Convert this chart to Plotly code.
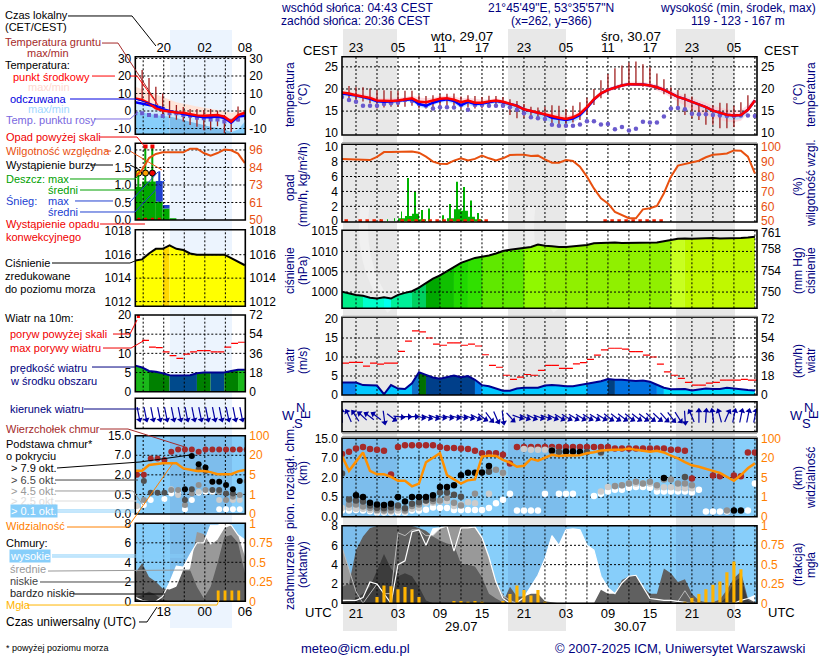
import math
from itertools import groupby

import plotly.graph_objs as go

N = None
W, H = 820, 660

# ---- main panel data, one value per hour from 19 UTC 28.07 ----
t_mid = [19.2,19,18.6,18.3,18,17.4,17.3,17.3,17.4,17.6,17.9,17.1,17,17.4,17.8,17.9,17.6,17,17.4,16.9,
         16.9,17.2,17.4,17.1,16.6,16.2,15.4,15,14.7,14.2,13.8,13.5,13.2,13.6,14.4,15.9,17.7,19,19.8,20.3,
         20.8,21.1,21.1,21,20.8,20.4,19.8,19,18.2,17.7,17.1,16.5,15.9,15.1,14.6,14.2,14,14.1,15.3,17.4]
t_feel = [19,18.8,18.5,18.2,17.8,17.2,17.1,17.2,17.3,17.5,17.7,16.6,16.2,16.9,17.4,17.7,17.3,16.3,17.1,16.6,
          16.7,17,17.3,17,16.6,16.2,15.4,15,14.7,14.2,13.5,13.2,13,13.3,14.1,15.7,17.6,19,19.8,20.3,
          20.8,21.1,21.1,21,20.8,20.4,19.8,19,18.2,17.7,17.1,16.5,15.9,15.1,14.6,14.2,14,14.1,15.3,17.4]
t_hi = [19.4,19.3,19.1,18.9,18.6,18.1,17.9,18,18,18.2,18.5,18.1,17.9,18,18.4,18.5,18.3,17.9,18,17.8,
        17.6,17.7,17.9,17.6,17.1,16.6,15.8,15.4,15.2,14.7,14.5,14.2,14,14.2,15.1,16.5,18.2,19.5,20.3,20.8,
        21.3,21.6,21.7,21.6,21.4,21,20.4,19.7,19,18.5,17.9,17.4,16.9,16.2,15.8,15.4,15.2,15.3,16.4,18]
t_lo = [19,18.9,18.4,18,17.7,17.1,16.9,17,17.1,17.2,17.5,16.5,16.2,16.8,17.3,17.4,16.8,16.4,16.9,16.6,
        16.5,16.8,17,16.6,16.1,15.6,14.9,14.4,14,13.6,13.2,12.9,12.7,13,13.7,15.3,17.3,18.5,19.3,19.9,
        20.4,20.7,20.7,20.6,20.3,19.7,19,18.1,17.1,16.2,15.4,14.7,14,13.5,13,12.6,12.5,12.8,14.6,16.9]
t_feel_lo = [18.5,18.3,18,17.7,17.3,16.8,16.7,16.8,16.9,17.1,17.2,16,15.6,16.3,16.9,17.1,16.6,15.7,16.4,16,
             16.2,16.5,16.8,16.4,15.9,15.4,14.5,14,13.6,13,12.4,12.1,12,12.5,13.4,15.2,17.4,18.9,19.7,20.2,
             20.7,21,21,20.9,20.7,20.3,19.7,18.9,18,17.4,16.7,16,15.3,14.4,13.8,13.2,13,13.2,14.8,17.2]
t_dew = [18.2,17.5,17.1,16.2,16.2,16.2,16.6,16.8,16.9,17.5,17.3,16.6,16.2,15.6,15.9,15.9,15.8,16.4,15.3,16.4,
         16.4,16.2,16.2,16.2,15.9,15.3,14.5,13.6,13.4,13.2,11.9,11.7,11.7,11.7,12,12.7,12.7,12,12.1,10.9,
         11.4,10.6,11,12.6,12.4,12.4,13.8,15.6,15.7,15.4,14.4,14.3,14.3,14.1,14,13.9,13.9,14,14,13.9]
soil_hi = [19.6,20.7,20.4,20.4,20.1,19.7,19.7,19.6,19.6,19.6,19.6,18.6,18.4,18.6,18.8,18.9,19,18.3,18.6,18.4,
           18.2,18.5,18.4,18.2,17.7,17.3,16.6,16,15.8,16,16.3,16.2,15.5,16.2,17,18,20,22,23.4,24.7,
           25.3,26,26.2,25.6,24.9,23.5,22.2,20.4,19.8,18.9,18.3,16.8,16,16.3,16.9,16.8,16.2,17,18.6,17.5]
soil_lo = [18.5,17.4,17.5,17.2,16.8,15.6,15.8,16,16,16,16.2,15.6,15.6,15.8,16,16.2,16.2,15.5,15.8,15.6,
           15.6,15.8,15.9,15.8,14.1,13.4,13.5,13.2,13,12.8,12.3,11.4,12,12.4,13,14.1,16.4,17.9,19,19.9,
           20.5,20.9,20.9,20.5,20.4,19.9,18.8,17.9,15.6,14.1,13.4,13,11.9,11.9,11.1,11.1,11.4,13.8,15,16.9]
rh = [91.7,91.6,91.5,91.3,91,93.2,96.4,96.5,96.5,96.6,96.7,96,93.3,90,88.6,88.4,90.7,92.2,90.7,91.8,
      94,92.2,90.7,92.2,94.4,94.6,94.6,93.8,94,91.5,89.3,89.3,91,90.4,86.6,79.9,72,65.4,62,56.3,
      54.2,52,52,58,58.7,60.3,68.8,79.9,87.3,88.4,90,90.6,92.9,94.6,95,95.5,97.5,97.3,93.3,82.1]
rain_max = [0,0,0,0,0,.3,.2,.4,1.3,5.8,4,1.5,1.7,0,.8,2.3,5.3,4.6,2.8,1.1]
rain_mean = [0,0,0,0,0,0,0,0,.4,.7,1,.2,0,0,0,.4,1.6,1.4,.6,.2]
conv_hours = [0,2,3,4,5,8,9,10,11,12,13,14,15,16,17,18,19,20,37,38,39,40,41,42,43,44,45]
pressure = [1000.1,999.7,999.3,999.1,998.6,998.4,998.7,998.4,999.3,999.8,1000.2,1001.1,1002.3,1003.3,1004.1,1005.2,
            1006.3,1007.2,1007.8,1008.4,1008.7,1009,1009.5,1010.1,1010.4,1010.6,1010.8,1011.1,1011.7,1011.4,
            1011.3,1011.1,1011.1,1011.3,1011.4,1011.6,1012,1012.1,1012.2,1012.2,1012.1,1012.1,1012.1,1012.1,1012.1,
            1012.2,1012.5,1012.8,1013.1,1013.2,1013.1,1013.2,1013.3,1013.3,1013.2,1013.2,1013.2,1013.3,1013.4,1013.6]
pressure_cols = (["#00ee88"]*3 + ["#00ffcc"]*3 + ["#00ffee"] + ["#00f098"]*3 + ["#00d060"]*2 + ["#00a800"]*2
                 + ["#10c000"]*2 + ["#20d800"]*2 + ["#30e000"]*2 + ["#60e800"]*6 + ["#90f800"]*3
                 + ["#90f000"]*18 + ["#c8ff20"]*2 + ["#c0f800"]*11)
gust = [8.4,8.6,8.6,7.6,8.4,8.1,8.4,8.4,11.5,14.2,16.9,16.6,15,13.4,13.1,13.7,13.7,13.1,13.4,12.9,
        10.6,7.8,7.3,5.2,4.1,4.7,5.4,5.2,6.5,7.8,7.8,7,7,8.2,8.5,9.4,10.5,11.9,12.3,12.3,
        12.1,11.4,11.4,10.5,10,8.1,6.1,5.2,4.4,3.3,2.6,2.6,3.1,3.3,3.9,3.9,3.9,4.1,3.9,3.9]
wind = [3.3,3.3,3.3,2.6,2.6,2.5,.2,2.6,1.7,1.6,3.1,6,5.3,4.6,4.3,4.6,5.1,4.7,5,4,
        2.6,2.3,1.8,1.1,1.1,1.7,1.9,1.9,1.9,2.5,2.6,2.5,2.3,2.3,2.6,2.9,3.3,3.6,4.2,4,
        4,3.8,3.7,3.8,3.5,2.7,1.9,1.5,1.5,1.6,1.2,1.4,1.7,1.6,1.6,1.9,1.6,1.5,1.3,1.2]
wind_cols = (["#0a84ef"]*2 + ["#00c8ff"]*8 + ["#1070c8"] + ["#007000"] + ["#003f8a"]*7 + ["#0080e8"]
             + ["#00c8ff"]*15 + ["#0080e8"]*3 + ["#004080"] + ["#0070e0"]*6 + ["#00a0f0"] + ["#00e0ff"]*14)
heading = [355,330,320,305,300,300,170,120,95,90,90,100,105,105,100,100,100,100,105,110,
           120,135,150,170,130,105,110,110,105,105,110,115,115,115,115,115,115,115,120,120,
           120,120,120,120,125,125,130,135,140,175,330,0,5,350,340,30,15,15,15,15]
base_red = [3.2,3.31,3.48,3.55,3.45,3.41,3.36,2.15,3.55,3.64,3.64,3.64,3.64,3.64,3.55,3.5,3.5,3.48,3.45,3.36,
            3.24,3.24,3.24,3.16,2.72,3.55,3.55,3.55,3.55,3.55,3.55,3.55,3.55,3.55,3.55,3.55,3.55,3.55,3.55,3.48,
            3.48,3.48,3.48,3.48,3.48,3.48,3.48,3.41,3.41,3.36,1.95,N,N,2.1,2.07,N,2.1,2.07,3.27,3.27]
base_black = [N,N,1.09,1,.71,.62,.6,.66,1,.78,1,1,1,1.1,1.52,1.52,1.6,2.12,2.24,2.24,
              2.26,2.59,N,N,N,N,N,N,N,N,3.38,N,3.33,3.33,3.3,N,N,N,N,N,
              N,N,N,N,N,N,1.98,N,N,N,N,N,N,N,N,N,.31,.31,N,N]
base_dark = [2.2,.88,.83,.78,.57,.45,.43,.48,.57,.43,.66,.74,.83,.91,1.24,1.24,1.12,1.02,N,N,
             N,2.29,N,N,N,N,N,N,N,N,N,3.3,N,N,N,3.3,N,3.3,N,N,
             N,N,N,N,N,N,N,N,N,2.03,N,N,N,N,N,N,N,N,N,N]
base_mid = [N,.62,.62,.52,.45,.34,.31,.31,.45,.31,.55,.62,.83,.79,.83,.95,.71,.57,N,1.17,
            N,2.4,2.4,2.24,N,N,N,N,N,N,3.3,N,3.3,3.3,N,N,N,3.25,N,1.57,
            1.6,1.69,1.78,1.69,1.78,1.6,1.9,1.9,1.69,1.69,1.6,N,N,N,N,.31,N,N,N,N]
base_light = [.45,.45,.4,.4,.34,.28,.26,.26,.31,.26,.4,.45,.71,.71,.78,.79,.55,.62,.74,.69,
              N,1.17,N,2.2,N,N,3.45,3.41,3.41,3.41,3.4,N,N,N,N,N,N,1.29,1.52,1.55,
              1.6,1.69,1.7,1.7,1.7,1.5,1.5,1.5,1.45,1.45,1.45,N,N,N,N,N,N,N,N,N]
base_white = [.31,.31,.34,.31,.28,.22,.22,.22,.22,.22,.31,.31,.36,.47,.45,.45,.34,.34,.34,.34,
              .34,.45,.69,.86,1.17,.31,.31,.31,.31,1.17,N,1.17,1.17,1.17,N,N,1.05,1.17,1.29,1.38,
              1.38,1.48,1.52,1.52,1.48,1.29,1.29,1.29,1.29,1.29,1.24,1.38,.26,.26,.26,.26,N,N,.31,1.69]
vis = [3.1,2.34,2.81,3.28,2.34,2.16,2.16,2.03,1.83,1.83,1.55,1.69,2.78,3.02,3.24,2.12,1.91,1.69,1.86,1.9,
       3.07,3.12,3.1,2.9,2.76,2.55,2.6,2.95,2.86,3.03,3.16,3.1,3.14,3.12,3.14,3.24,3.29,3.38,3.41,3.41,
       3.41,3.48,3.41,3.36,3.31,3.36,3.28,3.12,2.98,2.78,2.62,2.55,2.43,2.34,2.24,2.03,1.83,2.12,2.47,2.72]
cl_high = [.3,.3,.3,.6,2.2,2,1,0,4,4.4,7.4,7.6,6,7.7,7.8,8,5.4,7.8,7.8,7.9,
           6.8,4.8,2.2,.5,0,.1,.6,1.7,2.9,4.6,7,6,7.6,7.7,7.6,6,5.5,2.8,1.6,1,
           2.1,2.8,2.9,1.7,.5,.4,.3,.3,.2,.1,0,0,0,0,0,0,0,.3,.5,.8]
cl_mid = [5.8,3.4,1.2,0,1,2,1,1,7.3,7,7.6,7.6,7,7,7.7,8,8,8,8,7.8,
          6.8,4.6,2.2,.8,.3,0,0,0,0,0,0,0,0,0,0,0,0,0,0,0,
          0,0,0,0,0,0,0,0,.2,1.3,.2,0,0,0,0,0,0,0,0,0]
cl_low = [1.7,2,5.5,6.9,7.8,8,8,8,8,8,8,7.8,7.5,6.9,6.5,6.2,6,4.1,4,3.8,
          2.7,1,.5,.1,1.7,.7,.7,1,1,.2,.1,0,0,0,0,0,0,1.4,1,1,
          2.4,2.8,2.9,1.7,1,1,3.6,3.1,2.2,2.5,1,.3,.1,.1,.4,1.4,2.6,3.3,.5,.1]
cl_vlow = [.1,.3,.5,1,1.7,3.4,5.1,3.6,2.8,3.1,2.8,1.7,.3,0,0,0,0,0,0,0,
           0,0,0,0,0,0,0,0,0,0,0,0,0,0,0,0,0,0,0,0,
           0,0,0,0,0,0,0,0,0,0,0,0,0,0,0,.7,2.2,2.7,.3,0]
fog = [0,0,0,0,0,.08,.23,.22,.18,.21,.18,.08,0,0,0,0,.03,.03,.02,.03,
       .02,0,0,.03,.12,.23,.17,.1,.17,.02,0,0,0,0,0,0,0,0,0,0,
       0,0,0,0,0,0,0,0,0,.02,.07,.12,.18,.24,.28,.4,.54,.44,0,0]

# ---- left (legend) panel data, one value per hour ----
l_mid = [7.2,6.3,4.4,1.5,.2,-.4,-.8,-1,-1.7,-2.5,-2.7,-2.7,-2.3,-3.2,-6,-2.3,-1]
l_feel = [5,4.4,3.4,2.5,1,0,-1,-1.7,-2.5,-3.2,-3.6,-3.6,-3.2,-4,-6.7,-3.2,-2.7]
l_hi = [13.9,12.5,11,9.5,8,6.5,5,4,3.4,2.5,1.8,1,.5,0,-1.2,0,.6]
l_feel_lo = [-.4,-.8,-1.5,-2.3,-2.8,-3.2,-4,-5.2,-6.1,-7,-8,-9,-9.5,-10.5,-12,-10.5,-6]
l_feel_cols = ["#87cefa"]*5 + ["#7dbdec"]*9 + ["#87cefa"]*3
l_dew = [-1.3,-1.3,-2.3,-2.7,-2.9,-1.3,-1.3,-2.3,-2.7,-3.8,-4.2,-4.8,-4.8,-6,-5.5,-4.8,-2.3]
l_soil_hi = [N,23.4,18.9,13.9,10,5.7,3.4,2.3,1.1,1.1,.6,1.1,.2,-2.3,-5,2.5,-.4]
l_soil_lo = [N,6.3,5,2,-2,-4,-5,-6,-8,-9,-11,-11,-8.7,-12.6,-12,-6,-5]
l_rh = [78.6,83,90.7,93.4,94.5,94.5,94.5,94.5,96.9,96.9,94,92.3,94,96.3,95.8,93.6,87.4]
l_rain_mean = [.95,1.1,1.1,.53,.33,.05]
l_rain_max = [1.43,2.1,2.1]
l_snow_mean = [0,0,0,.58,.1,0]
l_snow_max = [0,0,0,1.39]
l_storm_cols = ["#ffe000","#ffa000","#f00000"]
l_pressure = [1015.5,1015.6,1016.1,1016.5,1016.5,1016.8,1016.5,1016.4,1016.1,1016,1016,1016,1016,1016,1015.7,1015.4,1015.1]
l_pressure_cols = ["#ffff00"]*4 + ["#ffd800"] + ["#ffff00"]*12
l_gust = [N,13.4,11.6,11.5,10.4,9.4,8.7,9.8,10.4,10.7,10.7,10.4,10.4,11.6,12.6,12.9]
l_wind = [6.8,6.3,5.4,5.2,4.8,4.3,4.2,4.2,4.3,4.8,5,5,5,5,5.4,5.7,5.7]
l_wind_cols = (["#1ab81a"]*2 + ["#008000"]*3 + ["#004a8c"]*4 + ["#008000"]*2 + ["#004a8c"]*2
               + ["#008000"]*2 + ["#1ab81a"]*2)
l_heading = [165,165,165,165,165,165,165,165,165,165,165,165,165,165,165,165,165]
l_base_red = [2,2,2.84,2.84,2.76,3.18,3.3,3.3,3.3,3.18,3.3,3.3,3.3,3.3,3.3,3.3,3.3]
l_base_black = [N,N,N,N,N,N,N,1.26,2.96,2.54,2.37,1.65,1.65,1.48,1.26,1.69,N]
l_base_dark = [N,1.68,1.09,1.09,1.09,N,N,.71,1.26,2.28,2.2,1.22,1.22,1.05,1.05,N,N]
l_base_mid = [N,.71,N,N,N,1.22,1.22,.46,1.05,1.48,1.22,1.65,1.14,.71,.88,.97,1.68]
l_base_light = [.41,N,N,N,N,1.26,.97,N,N,1.14,N,N,.71,N,.71,.71,N]
l_base_white = [.24,.46,.71,N,.77,1.05,1.05,.24,.71,1.09,1.14,1.14,.24,.24,.24,.24,N]
l_vis = [2.21,2.21,2.5,2.55,2.59,2.59,2.59,2.33,2.25,2.2,2.2,2.14,2.03,2.03,2.03,2.18,2.25]
l_cl_high = [.4,.1,0,0,.5,1.9,3.6,3.5,4.8,6,6,7.8,7.8,8,7.8,6.8,6.3]
l_cl_mid = [0,0,0,0,.8,1,1.5,2.4,3.4,7.1,6.9,5.8,6.3,7.5,7.8,6.8,4.6]
l_cl_low = [2.9,3.9,2.5,2,1.3,1.2,1.5,3.2,3.2,1.5,.3,1.5,3.9,6.6,6.8,6,2.9]
l_cl_vlow = [.4,.65,1,.65,.1,0,0,0,0,0,0,0,0,0,0,0,0]
l_fog = [0,0,0,0,0,0,0,0,0,0,0,0,.14,.14,.14,.14,0]

hours = list(range(60))
l_hours = list(range(17))

main_top = ["23","","05","","11","","17","","23","","05","","11","","17","","23","","05",""]
main_utc = ["21","","03","","09","","15","","21","","03","","09","","15","","21","","03",""]
main_vgrid = [2+3*i for i in range(20)]
left_vgrid = [1.15,4.15,7.15,10.15,13.15]
base_ticks = [0,1,2,3,4]
base_labels = ["0.0","0.5","2.0","7.0","15.0"]
vis_labels = ["0","1","5","20","100"]

NAVY = "#000080"
ORANGE = "#ff8000"
RHC = "#e8500f"
FONT = "Liberation Sans"

fig = go.Figure()
layout_axes = {}
shapes = []
annotations = []
n_panels = 0


def fx(x):
    return x/W


def fy(y):
    return 1-y/H


def add_panel(x, y, xr, yr, ticks, labels=None, yr2=None, rticks=None, rlabels=None, rcolor="black",
              hgrid=(), vgrid=(), top=None, bottom=None):
    global n_panels
    n_panels += 1
    i = n_panels
    j = 100+i
    xa = dict(domain=[fx(x[0]), fx(x[1])], range=list(xr), anchor="y%d" % i, showgrid=False, zeroline=False,
              showline=False, fixedrange=True, ticks="", tickfont=dict(size=13, color="black"))
    if top or bottom:
        vals, texts = top or bottom
        xa.update(tickmode="array", tickvals=vals, ticktext=texts, side="top" if top else "bottom", ticklabelstandoff=1)
    else:
        xa["showticklabels"] = False
    ya = dict(domain=[fy(y[1]), fy(y[0])], range=list(yr), anchor="x%d" % i, showgrid=False, zeroline=False,
              showline=False, fixedrange=True, ticks="", tickmode="array", tickvals=ticks,
              ticktext=labels if labels else [str(t) for t in ticks], tickfont=dict(size=12, color="black"),
              ticklabelstandoff=3)
    yb = dict(domain=[fy(y[1]), fy(y[0])], range=list(yr2 or yr), anchor="x%d" % i, overlaying="y%d" % i, side="right",
              showgrid=False, zeroline=False, showline=False, fixedrange=True, ticks="", tickmode="array",
              tickvals=rticks or [], ticktext=rlabels if rlabels else [str(t) for t in rticks or []],
              tickfont=dict(size=12, color=rcolor), ticklabelstandoff=3)
    layout_axes["xaxis%d" % i] = xa
    layout_axes["yaxis%d" % i] = ya
    layout_axes["yaxis%d" % j] = yb
    p = dict(x="x%d" % i, y="y%d" % i, y2="y%d" % j, box=(x, y), xr=xr, yr=yr, hgrid=hgrid, vgrid=vgrid)
    fig.add_trace(go.Scatter(x=[xr[0]], y=[(yr2 or yr)[0]], mode="markers", marker=dict(opacity=0),
                             xaxis=p["x"], yaxis=p["y2"], hoverinfo="skip"))
    shapes.append(dict(type="rect", xref="paper", yref="paper", x0=fx(x[0]), x1=fx(x[1]), y0=fy(y[1]), y1=fy(y[0]),
                       line=dict(color="black", width=1.6), layer="above"))
    return p


def add_grid(p):
    gx, gy = [], []
    for h in p["hgrid"]:
        gx += [p["xr"][0], p["xr"][1], N]
        gy += [h, h, N]
    for v in p["vgrid"]:
        gx += [v, v, N]
        gy += [p["yr"][0], p["yr"][1], N]
    fig.add_trace(go.Scatter(x=gx, y=gy, mode="lines", line=dict(color="black", width=1, dash="2px,2px"),
                             xaxis=p["x"], yaxis=p["y"], hoverinfo="skip"))


def add_line(p, x, y, color, width=2, right=False, **kw):
    fig.add_trace(go.Scatter(x=x, y=y, mode="lines", line=dict(color=color, width=width), xaxis=p["x"],
                             yaxis=p["y2"] if right else p["y"], hoverinfo="skip", **kw))


def add_band(p, x, hi, lo, color):
    fig.add_trace(go.Scatter(x=x, y=hi, mode="lines", line=dict(width=0), xaxis=p["x"], yaxis=p["y"], hoverinfo="skip"))
    fig.add_trace(go.Scatter(x=x, y=lo, mode="lines", line=dict(width=0), fill="tonexty", fillcolor=color,
                             xaxis=p["x"], yaxis=p["y"], hoverinfo="skip"))


def add_sticks(p, x, hi, lo, color, width=1.3):
    sx, sy = [], []
    for h, a, b in zip(x, hi, lo):
        if a is None:
            continue
        sx += [h, h, N]
        sy += [a, b, N]
    add_line(p, sx, sy, color, width)


def add_steps(p, x, values, color, width=1.2):
    sx, sy = [], []
    for h, v in zip(x, values):
        if v is None:
            continue
        sx += [h, h+1, N]
        sy += [v, v, N]
    add_line(p, sx, sy, color, width)


def add_dots(p, x, y, color, size=6.5, symbol="circle", **kw):
    fig.add_trace(go.Scatter(x=x, y=y, mode="markers", marker=dict(color=color, size=size, symbol=symbol, **kw),
                             xaxis=p["x"], yaxis=p["y"], hoverinfo="skip"))


def add_colored_area(p, x, y, cols, base):
    # one polygon per run of equal colour
    idx = list(range(len(x)-1))
    for col, run in groupby(idx, key=lambda i: cols[i]):
        run = list(run)
        px = [x[run[0]]] + [x[k] for k in run] + [x[run[-1]+1], x[run[-1]+1]]
        py = [base] + [y[k] for k in run] + [y[run[-1]+1], base]
        fig.add_trace(go.Scatter(x=px, y=py, mode="lines", line=dict(width=0), fill="toself", fillcolor=col,
                                 xaxis=p["x"], yaxis=p["y"], hoverinfo="skip"))


def add_cloud(p, x, y, color):
    fig.add_trace(go.Scatter(x=x, y=y, mode="lines", line=dict(width=0), fill="tozeroy", fillcolor=color,
                             xaxis=p["x"], yaxis=p["y"], hoverinfo="skip"))


def add_bars(p, x, y, color, width, right=False, base=None):
    fig.add_trace(go.Bar(x=x, y=y, width=width, base=base, marker=dict(color=color, line=dict(width=0)), xaxis=p["x"],
                         yaxis=p["y2"] if right else p["y"], hoverinfo="skip"))


def add_wind_dir(p, x, dirs, ppx, half, color="#0000a0"):
    lx, ly, hx, hy = [], [], [], []
    for h, d in zip(x, dirs):
        dx = .75*half*math.sin(math.radians(d))/ppx
        dy = half*math.cos(math.radians(d))/15
        lx += [h-dx, h+dx, N]
        ly += [-dy, dy, N]
        hx.append(h+dx)
        hy.append(dy)
    add_line(p, lx, ly, color, 1.2)
    add_dots(p, hx, hy, color, size=6, symbol="triangle-up", angle=list(dirs))


def sky_rects(box, nights, night_col):
    (x0, x1), (y0, y1) = box
    shapes.append(dict(type="rect", xref="paper", yref="paper", x0=fx(x0), x1=fx(x1), y0=fy(y1), y1=fy(y0),
                       fillcolor="#87cefa", line=dict(width=0), layer="below"))
    for a, b in nights:
        shapes.append(dict(type="rect", xref="paper", yref="paper", x0=fx(max(a, x0)), x1=fx(min(b, x1)),
                           y0=fy(y1), y1=fy(y0), fillcolor=night_col, line=dict(width=0), layer="below"))


def label(x, y, text, color="black", anchor="left", angle=0, size=12, **kw):
    annotations.append(dict(x=fx(x), y=fy(y), xref="paper", yref="paper", text=text, showarrow=False, xanchor=anchor,
                            yanchor="middle", textangle=angle, borderpad=0, font=dict(size=size, color=color, family=FONT), **kw))


def leader(color, pts, width=1):
    path = "M " + " L ".join("%.4f,%.4f" % (fx(a), fy(b)) for a, b in pts)
    shapes.append(dict(type="path", xref="paper", yref="paper", path=path, line=dict(color=color, width=width), layer="above"))


# ---- backgrounds ----
night_main = [(343, 397), (508, 566), (676, 735)]
night_left = [(170, 232)]
for a, b in night_main:
    shapes.append(dict(type="rect", xref="paper", yref="paper", x0=fx(a), x1=fx(b), y0=fy(631), y1=fy(29),
                       fillcolor="#e8e8e8", line=dict(width=0), layer="below"))
shapes.append(dict(type="rect", xref="paper", yref="paper", x0=fx(170), x1=fx(232), y0=fy(628), y1=fy(30),
                   fillcolor="#ecf4fe", line=dict(width=0), layer="below"))
for a in (365, 531):
    sw = "M %.4f,%.4f Q %.4f,%.4f %.4f,%.4f" % (fx(a), fy(206), fx(a-8), fy(265), fx(a+26), fy(310))
    shapes.append(dict(type="path", xref="paper", yref="paper", path=sw, line=dict(color="#f0f0f0", width=9), layer="below"))

LX = (135.3, 245.3)
MX = (342, 757)
LXR = (0, 16.06)
MXR = (0, 59.3)
sky_rects((MX, (438.3, 516.7)), night_main, "#7cbdec")
sky_rects((MX, (525.7, 603.3)), night_main, "#7cbdec")
sky_rects((LX, (435.7, 514)), night_left, "#7dbdec")
sky_rects((LX, (523.3, 601.3)), night_left, "#7dbdec")

# ---- left column ----
p = add_panel(LX, (56.7, 134.3), LXR, (-13.3, 31), [-10, 0, 10, 20, 30], rticks=[-10, 0, 10, 20, 30],
              yr2=(-13.3, 31), hgrid=[-10, 0, 10, 20, 30], vgrid=left_vgrid, top=([4.15, 10.15, 16.0], ["20", "02", "08"]))
add_band(p, l_hours, l_hi, l_mid, "#ffe4d8")
add_band(p, l_hours, l_feel, l_feel_lo, "rgba(200,232,255,0.85)")
add_colored_area(p, l_hours, l_feel_lo, l_feel_cols, -13.3)
add_grid(p)
add_sticks(p, l_hours, l_soil_hi, l_soil_lo, "#a02020")
add_dots(p, l_hours, l_dew, "#6a5acd", size=4, symbol="square")
add_line(p, l_hours, l_feel, "#0000ff", 2.5)
add_line(p, l_hours, l_mid, "#ff0000", 2.5)

p = add_panel(LX, (143.3, 220), LXR, (0, 2.19), [0, .5, 1, 1.5, 2], ["0.0", "0.5", "1.0", "1.5", "2.0"], yr2=(50, 100.4),
              rticks=[50, 61, 73, 84, 96], rcolor=RHC, hgrid=[.5, 1, 1.5, 2], vgrid=left_vgrid)
lh = [h+.5 for h in l_hours]
add_bars(p, lh[:3], l_rain_max, "#00a800", .16)
add_bars(p, lh[:4], l_snow_max, "#2040d0", .12)
add_bars(p, lh[:6], l_rain_mean, "#00a800", 1)
add_bars(p, lh[:6], l_snow_mean, "#2040d0", 1, base=l_rain_mean)
add_grid(p)
add_dots(p, lh[1:3], [2.1, 2.1], "#f00000", size=4, symbol="square")
add_dots(p, lh[:3], [1.34, 1.34, 1.34], l_storm_cols, size=6, line=dict(color="black", width=1))
add_dots(p, lh[:4], [.02, .02, .02, .02], "#f00000", size=3, symbol="square")
add_line(p, l_hours, l_rh, RHC, 2, right=True)

p = add_panel(LX, (229.7, 306.3), LXR, (1011.6, 1018.13), [1012, 1014, 1016, 1018], yr2=(1011.6, 1018.13),
              rticks=[1012, 1014, 1016, 1018], hgrid=[1012, 1014, 1016], vgrid=left_vgrid)
add_colored_area(p, l_hours, l_pressure, l_pressure_cols, 1011.6)
add_grid(p)
add_line(p, l_hours, l_pressure, "black", 2)

p = add_panel(LX, (315, 391.7), LXR, (0, 20), [0, 5, 10, 15, 20], yr2=(0, 72), rticks=[0, 18, 36, 54, 72],
              hgrid=[5, 10, 15], vgrid=left_vgrid)
add_colored_area(p, l_hours, l_wind, l_wind_cols, 0)
add_grid(p)
add_steps(p, l_hours, l_gust, "#ff0000")
add_dots(p, [.45], [19.6], "#ff0000", size=3, symbol="square")
add_line(p, l_hours, l_wind, "#000090", 2)

p = add_panel(LX, (398.3, 428.5), LXR, (-1, 1), [], vgrid=left_vgrid)
add_grid(p)
add_wind_dir(p, [h+.45 for h in l_hours], l_heading, 6.85, 6.5)

p = add_panel(LX, (435.7, 514), LXR, (0, 4), base_ticks, base_labels, yr2=(0, 4), rticks=base_ticks, rlabels=vis_labels,
              rcolor=ORANGE, hgrid=[1, 2, 3], vgrid=left_vgrid)
add_grid(p)
ld = [h+.25 for h in l_hours]
add_dots(p, ld, l_base_red, "#a52a2a", 6)
add_dots(p, ld, l_base_white, "white", 6)
add_dots(p, ld, l_base_light, "#cccccc", 6)
add_dots(p, ld, l_base_mid, "#909090", 6)
add_dots(p, ld, l_base_dark, "#505050", 6)
add_dots(p, ld, l_base_black, "black", 6)
add_line(p, l_hours, l_vis, "#ff9000", 2.5, right=True)

p = add_panel(LX, (523.3, 601.3), LXR, (0, 8), [0, 2, 4, 6, 8], yr2=(0, 1), rticks=[0, .25, .5, .75, 1], rcolor=ORANGE,
              hgrid=[2, 4, 6], vgrid=left_vgrid, bottom=([4.15, 10.15, 16.0], ["18", "00", "06"]))
add_cloud(p, l_hours, l_cl_high, "white")
add_cloud(p, l_hours, l_cl_mid, "#999999")
add_cloud(p, l_hours, l_cl_low, "#606060")
add_cloud(p, l_hours, l_cl_vlow, "#3c3c3c")
add_grid(p)
add_line(p, l_hours, l_cl_high, "white", 1.2)
add_bars(p, [h+.1 for h in l_hours], l_fog, "#ffb400", .42, right=True)

# ---- main column ----
p = add_panel(MX, (56.7, 135), MXR, (9.6, 27.3), [10, 15, 20, 25], yr2=(9.6, 27.3), rticks=[10, 15, 20, 25],
              hgrid=[15, 20, 25], vgrid=main_vgrid, top=(main_vgrid, main_top))
add_band(p, hours, t_hi, t_lo, "rgba(255,192,203,0.55)")
add_band(p, hours, t_feel, t_feel_lo, "rgba(170,220,255,0.8)")
add_grid(p)
add_sticks(p, hours, soil_hi, soil_lo, "#a02020")
add_dots(p, hours, t_dew, "#6a5acd", size=4.5)
add_line(p, hours, t_feel, "#0000ff", 2.5)
add_line(p, hours, t_mid, "#ff0000", 2.5)

p = add_panel(MX, (144.3, 222), MXR, (-.1, 10.32), [0, 2, 4, 6, 8, 10], yr2=(49.5, 101.6), rticks=[50, 60, 70, 80, 90, 100],
              rcolor=RHC, hgrid=[2, 4, 6, 8], vgrid=main_vgrid)
mh = [h+.5 for h in hours]
add_bars(p, mh[:20], rain_max, "#00b400", .14)
add_bars(p, mh[:20], rain_mean, "#00b400", 1)
add_grid(p)
add_dots(p, [h+.6 for h in conv_hours], [.05]*len(conv_hours), "#f02000", size=3.5, symbol="square")
add_line(p, hours, rh, RHC, 2, right=True)

p = add_panel(MX, (230.3, 308.3), MXR, (996, 1015.2), [1000, 1005, 1010, 1015], yr2=(747, 761.5), rticks=[750, 754, 758, 761],
              hgrid=[1000, 1005, 1010], vgrid=main_vgrid)
add_colored_area(p, hours, pressure, pressure_cols, 996)
add_grid(p)
add_line(p, hours, pressure, "black", 2)

p = add_panel(MX, (317.3, 395), MXR, (0, 20.45), [0, 5, 10, 15, 20], yr2=(0, 73.6), rticks=[0, 18, 36, 54, 72],
              hgrid=[5, 10, 15], vgrid=main_vgrid)
add_colored_area(p, hours, wind, wind_cols, 0)
add_grid(p)
add_steps(p, hours, gust, "#ff0000")
add_line(p, hours, wind, "#000090", 2)

p = add_panel(MX, (401.7, 431.7), MXR, (-1, 1), [], vgrid=main_vgrid)
add_grid(p)
add_wind_dir(p, hours, heading, 7, 6)

p = add_panel(MX, (438.3, 516.7), MXR, (0, 4), base_ticks, base_labels, yr2=(0, 4), rticks=base_ticks, rlabels=vis_labels,
              rcolor=ORANGE, hgrid=[1, 2, 3], vgrid=main_vgrid)
add_grid(p)
add_dots(p, hours, base_red, "#a52a2a")
add_dots(p, hours, base_white, "white")
add_dots(p, hours, base_light, "#cccccc")
add_dots(p, hours, base_mid, "#909090")
add_dots(p, hours, base_dark, "#505050")
add_dots(p, hours, base_black, "black")
add_line(p, hours, vis, "#ff9000", 2.5, right=True)

p = add_panel(MX, (525.7, 603.3), MXR, (0, 8.03), [0, 2, 4, 6, 8], yr2=(0, 1), rticks=[0, .25, .5, .75, 1], rcolor=ORANGE,
              hgrid=[2, 4, 6], vgrid=main_vgrid, bottom=(main_vgrid, main_utc))
add_cloud(p, hours, cl_high, "white")
add_cloud(p, hours, cl_mid, "#999999")
add_cloud(p, hours, cl_low, "#606060")
add_cloud(p, hours, cl_vlow, "#3c3c3c")
add_grid(p)
add_line(p, hours, cl_mid, "#bbbbbb", 1)
add_line(p, hours, cl_high, "white", 1.2)
add_bars(p, hours, fog, "#ffb400", .45, right=True)

# grey shadow strips next to some panel frames
for y in (143, 316.5, 433, 437):
    leader("#999999", [(342, y), (757, y)], 1.5)

# ---- header and footer text ----
label(280, 8, "wschód słońca: 04:43 CEST", NAVY)
label(280, 21, "zachód słońca: 20:36 CEST", NAVY)
label(551, 8, "21°45'49\"E, 53°35'57\"N", NAVY, "center")
label(551, 21, "(x=262, y=366)", NAVY, "center")
label(738, 8, "wysokość (min, środek, max)", NAVY, "center")
label(738, 21, "119 - 123 - 167 m", NAVY, "center")
label(462, 37, "wto, 29.07", "black", "center", size=13.5)
label(631, 37, "śro, 30.07", "black", "center", size=13.5)
label(320, 50, "CEST", "black", "center", size=13)
label(781, 50, "CEST", "black", "center", size=13)
label(318, 612, "UTC", "black", "center", size=13)
label(781, 612, "UTC", "black", "center", size=13)
label(462, 626, "29.07", "black", "center", size=13)
label(630, 626, "30.07", "black", "center", size=13)
label(355, 648, "meteo@icm.edu.pl", NAVY, "center", size=13)
label(680, 648, "© 2007-2025 ICM, Uniwersytet Warszawski", NAVY, "center", size=13)

for xl, yc, t in [(290, 95, "temperatura"), (303, 95, "(°C)"), (290, 188, "opad"), (303, 185, "(mm/h, kg/m²/h)"),
                  (290, 271, "ciśnienie"), (303, 271, "(hPa)"), (290, 361, "wiatr"), (303, 361, "(m/s)"),
                  (290, 478, "pion. rozciągł. chm."), (303, 473, "(km)"), (290, 573, "zachmurzenie"), (303, 565, "(oktanty)"),
                  (811, 95, "temperatura"), (798, 95, "(°C)"), (811, 183, "wilgotność wzgl."), (798, 187, "(%)"),
                  (811, 271, "ciśnienie"), (798, 271, "(mm Hg)"), (811, 361, "wiatr"), (798, 361, "(km/h)"),
                  (811, 478, "widzialność"), (798, 478, "(km)"), (811, 565, "mgła"), (798, 565, "(frakcja)")]:
    label(xl, yc, t, NAVY, "center", angle=-90)

for off in (0, 508):
    label(288+off, 415, "W", NAVY, "center", size=13)
    label(300+off, 407, "N", NAVY, "center", size=13)
    label(305+off, 415, "E", NAVY, "center", angle=-90, size=13)
    label(298+off, 423, "S", NAVY, "center", size=13)

# ---- legend texts on the left ----
BROWN = "#a52a2a"
GREEN = "#00a000"
SLATE = "#7a68e0"
for x, y, t, c in [
    (4, 15, "Czas lokalny", "black"), (4, 27, "(CET/CEST)", "black"),
    (4, 42, "Temperatura gruntu", BROWN), (26, 53, "max/min", BROWN), (4, 65, "Temperatura:", "black"),
    (12, 77, "punkt środkowy", "#ff0000"), (27, 87, "max/min", "#ffd8d0"), (9, 99, "odczuwana", "#0000e0"),
    (27, 109, "max/min", "#a0d8ff"), (5, 120, "Temp. punktu rosy", SLATE), (5, 137, "Opad powyżej skali", "#f00000"),
    (5, 151, "Wilgotność względna", RHC), (5, 165, "Wystąpienie burzy", "black"), (5, 179, "Deszcz:", GREEN),
    (47, 179, "max", GREEN), (47, 190, "średni", GREEN), (5, 201, "Śnieg:", "#2040d0"), (47, 201, "max", "#2040d0"),
    (47, 212, "średni", "#2040d0"), (5, 224, "Wystąpienie opadu", "#f00000"), (5, 237, "konwekcyjnego", "#f00000"),
    (4, 263, "Ciśnienie", "black"), (4, 276, "zredukowane", "black"), (4, 289, "do poziomu morza", "black"),
    (4, 318, "Wiatr na 10m:", "black"), (9, 334, "poryw powyżej skali", "#f00000"),
    (9, 348, "max porywy wiatru", "#f00000"), (9, 368, "prędkość wiatru", NAVY), (9, 381, "w środku obszaru", NAVY),
    (9, 409, "kierunek wiatru", NAVY), (5, 429, "Wierzchołek chmur", BROWN), (5, 444, "Podstawa chmur*", "black"),
    (5, 456, "o pokryciu", "black"), (10, 468, "> 7.9 okt.", "black"), (10, 480, "> 6.5 okt.", "#444444"),
    (10, 491, "> 4.5 okt.", "#999999"), (10, 501, "> 2.5 okt.", "#dddddd"), (5, 526, "Widzialność", ORANGE),
    (5, 543, "Chmury:", "black"), (9, 569, "średnie", "#999999"), (9, 581, "niskie", "#444444"),
    (9, 593, "bardzo niskie", "#222222"), (5, 605, "Mgła", "#ffb400"),
]:
    label(x, y, t, c, size=11)
label(5, 622, "Czas uniwersalny (UTC)", "black")
label(10, 511, "> 0.1 okt.", "white", size=11, bgcolor="#87cefa")
label(9, 556, "wysokie", "white", size=11, bgcolor="#87cefa")
label(5, 648, "* powyżej poziomu morza", "black", size=9)

for c, pts in [
    ("black", [(68, 16), (132, 16), (156, 46)]),
    (BROWN, [(102, 43), (118, 43), (155, 100)]),
    ("#ff0000", [(92, 76), (115, 76)]), ("#ff0000", [(130, 76), (137, 76), (158, 105)]),
    ("#0000e0", [(70, 99), (135, 99), (165, 108)]),
    (SLATE, [(94, 119), (130, 119), (138, 112)]),
    ("#f00000", [(100, 137), (137, 137), (145, 147)]),
    (RHC, [(105, 151), (111, 151)]), (RHC, [(130, 151), (162, 170)]),
    ("black", [(90, 165), (113, 165)]), ("black", [(130, 165), (140, 170)]),
    (GREEN, [(70, 179), (135, 179), (139, 175)]), (GREEN, [(80, 190), (140, 190), (148, 185)]),
    ("#2040d0", [(75, 201), (113, 201)]), ("#2040d0", [(130, 202), (158, 172)]),
    ("#2040d0", [(80, 212), (135, 212), (165, 180)]),
    ("#f00000", [(100, 224), (145, 224)]),
    ("black", [(52, 263), (130, 263), (135, 261)]),
    ("#f00000", [(113, 334), (130, 334), (137, 320)]), ("#f00000", [(103, 348), (131, 348), (145, 340)]),
    (NAVY, [(92, 367), (135, 367)]), (NAVY, [(84, 409), (140, 409)]),
    (BROWN, [(100, 429), (128, 429), (185, 447)]),
    ("black", [(57, 468), (140, 462), (190, 455)]), ("#444444", [(55, 480), (138, 480)]),
    ("#999999", [(55, 491), (133, 491), (143, 505)]), ("#dddddd", [(55, 501), (137, 501)]),
    ("#87cefa", [(55, 510), (135, 510)]), ("#87cefa", [(55, 512), (135, 512)]),
    (ORANGE, [(67, 527), (128, 527), (173, 463)]),
    ("#87cefa", [(52, 555), (185, 555)]), ("#87cefa", [(52, 557), (185, 557)]),
    ("#999999", [(48, 571), (195, 570)]), ("#444444", [(40, 582), (135, 582)]),
    ("black", [(73, 594), (165, 594)]), ("#ffb400", [(27, 605), (217, 605), (219, 600)]),
    ("black", [(139, 622), (147, 622), (157, 607)]),
]:
    leader(c, pts)

fig.update_layout(
    width=W, height=H,
    margin=dict(l=0, r=0, t=0, b=0, autoexpand=False),
    paper_bgcolor="white",
    plot_bgcolor="rgba(0,0,0,0)",
    showlegend=False,
    barmode="overlay",
    font=dict(family=FONT, size=12, color="black"),
    shapes=shapes,
    annotations=annotations,
    **layout_axes
)

fig.write_html("out.html", config=dict(displayModeBar=False),
               post_script="document.body.style.margin='0';document.body.style.overflow='hidden';")
